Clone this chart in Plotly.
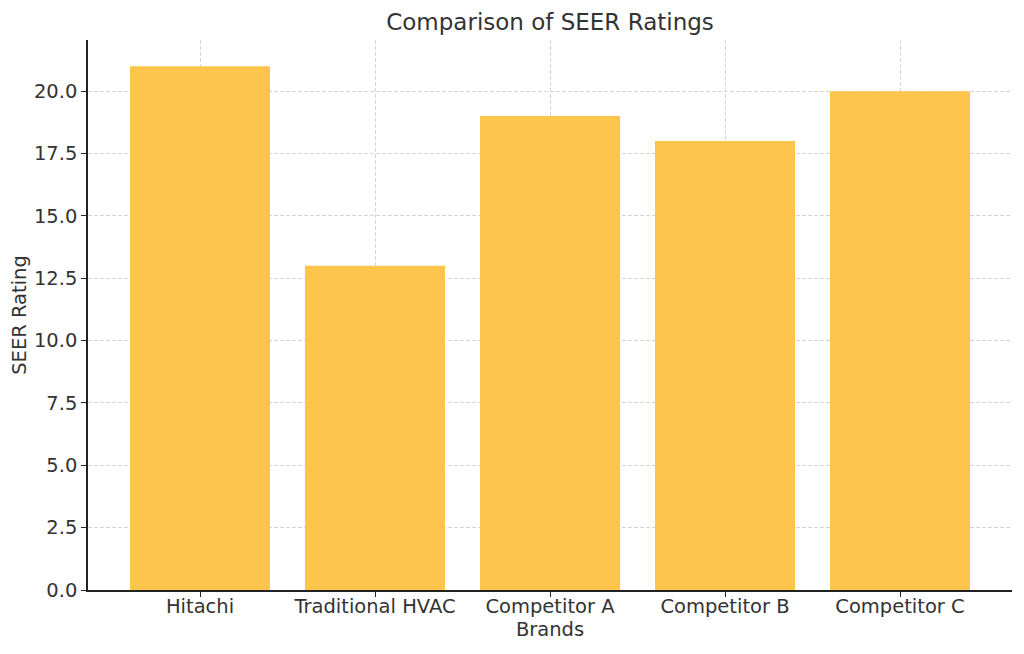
import plotly.graph_objects as go

brands = ["Hitachi", "Traditional HVAC", "Competitor A", "Competitor B", "Competitor C"]
seer_ratings = [21, 13, 19, 18, 20]
y_ticks = [0, 2.5, 5, 7.5, 10, 12.5, 15, 17.5, 20]

font_family = "DejaVu Sans"
text_color = "#333333"

# the page body adds an 8px offset, so the figure is shrunk by that much
fig = go.Figure()
fig.add_trace(
    go.Bar(
        x=brands,
        y=seer_ratings,
        width=0.8,
        marker=dict(color="#fec54c", line=dict(width=0)),
    )
)

axis_common = dict(
    showline=True,
    linecolor="#222222",
    linewidth=1.5,
    ticks="outside",
    ticklen=5,
    tickcolor="#222222",
    showgrid=True,
    gridcolor="#d4d4d4",
    gridwidth=1,
    griddash="4px,2px",
    zeroline=False,
    layer="above traces",
    automargin=False,
    tickfont=dict(family=font_family, size=19.5, color=text_color),
    mirror=False,
)

fig.update_layout(
    width=1016,
    height=646,
    margin=dict(l=80, r=12, t=32, b=64, autoexpand=False),
    paper_bgcolor="white",
    plot_bgcolor="white",
    showlegend=False,
    font=dict(family=font_family, color=text_color),
    title=dict(
        text="Comparison of SEER Ratings",
        xref="paper",
        x=0.5,
        xanchor="center",
        y=1 - 14 / 646,
        yanchor="middle",
        font=dict(family=font_family, size=23, color=text_color),
    ),
    xaxis=dict(
        **axis_common,
        range=[-0.64, 4.64],
        ticklabelstandoff=-7,
        title=dict(text="Brands", font=dict(family=font_family, size=19.5, color=text_color), standoff=4),
    ),
    yaxis=dict(
        **axis_common,
        range=[0, 22.05],
        tickvals=y_ticks,
        ticktext=[f"{v:.1f}" for v in y_ticks],
        title=dict(text="SEER Rating", font=dict(family=font_family, size=19.5, color=text_color), standoff=6),
    ),
)

fig.write_html("out.html")
